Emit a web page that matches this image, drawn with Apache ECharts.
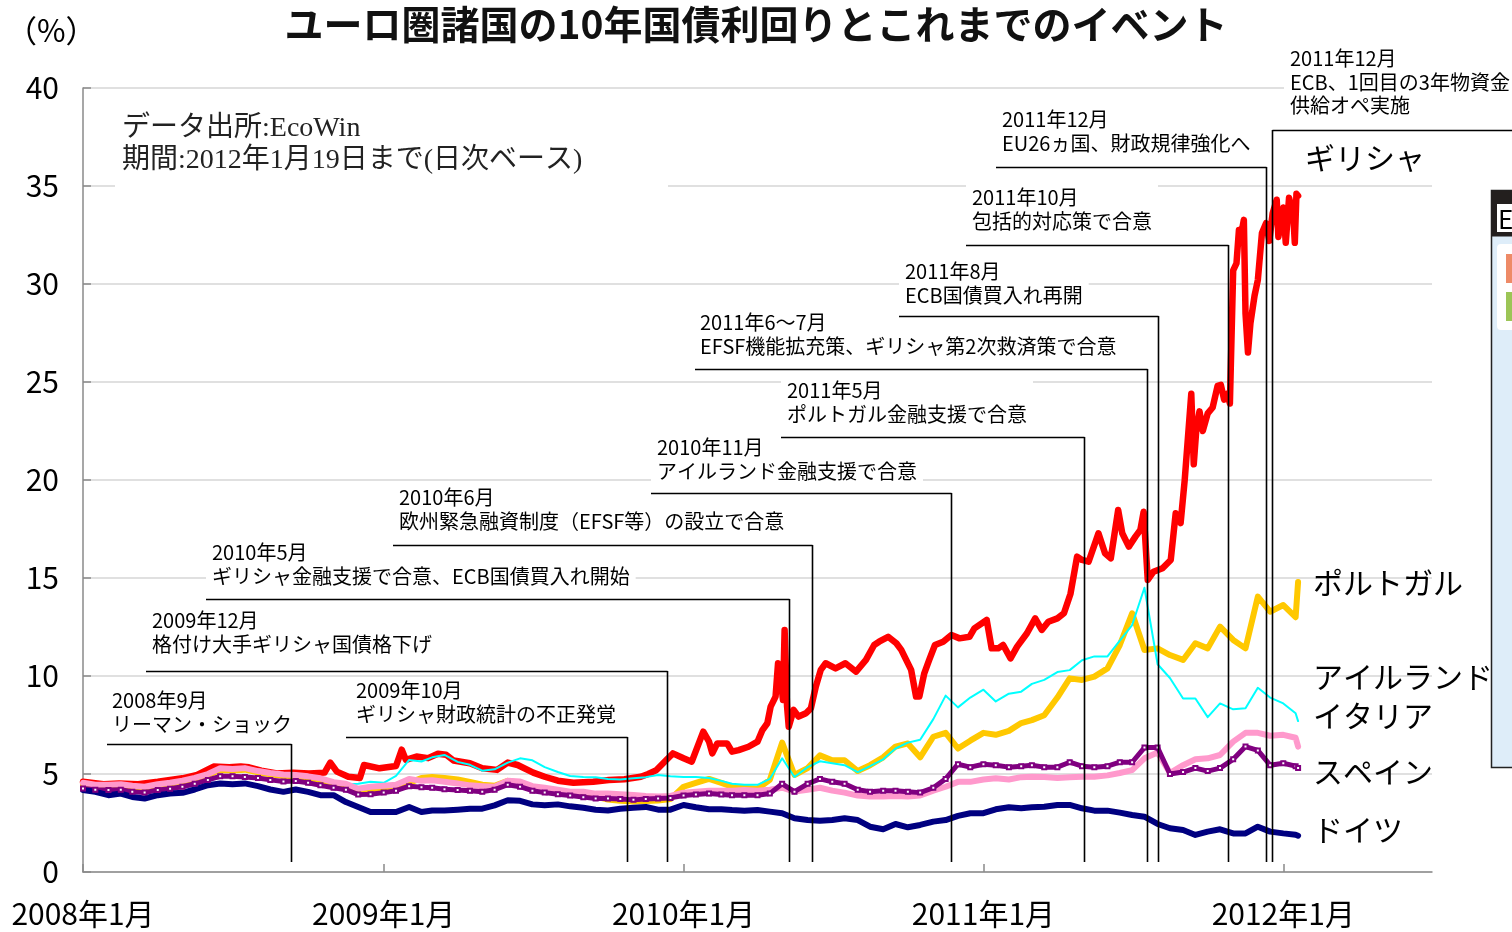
<!DOCTYPE html>
<html>
<head>
<meta charset="utf-8">
<title>ユーロ圏諸国の10年国債利回り</title>
<script src="https://cdn.jsdelivr.net/npm/echarts@6.0.0/dist/echarts.min.js"></script>
<style>
  html, body { margin: 0; padding: 0; background: #fff; }
  #chart { width: 1512px; height: 932px; }
</style>
</head>
<body>
<div id="chart"></div>
<script>
// half-month grid shared by the five smoother series (1st and 16th of each month)
var dates = [];
for (var y = 2008; y <= 2011; y++) {
  for (var m = 1; m <= 12; m++) {
    var mm = (m < 10 ? '0' : '') + m;
    dates.push(y + '-' + mm + '-01', y + '-' + mm + '-16');
  }
}
dates.push('2012-01-01', '2012-01-16', '2012-01-19');

var portugal = [4.45,4.40,4.38,4.42,4.35,4.30,4.42,4.50,4.60,4.75,4.95,5.20,5.18,5.22,5.08,4.98,4.90,4.88,4.80,4.70,4.45,4.35,4.08,4.10,
  4.20,4.30,4.55,4.80,4.85,4.80,4.72,4.60,4.45,4.40,4.65,4.55,4.30,4.20,4.10,4.00,3.95,3.85,3.70,3.64,3.60,3.62,3.65,3.72,
  4.35,4.55,4.75,4.55,4.35,4.30,4.25,4.70,6.60,4.95,5.30,5.95,5.70,5.70,5.15,5.45,5.85,6.40,6.56,5.85,6.90,7.10,6.30,6.70,
  7.10,7.00,7.20,7.60,7.75,8.00,8.90,9.88,9.80,9.97,10.39,11.58,13.20,11.33,11.41,11.07,10.82,11.67,11.41,12.52,11.84,11.41,14.05,13.28,
  13.62,13.00,14.80];
var ireland = [4.50,4.40,4.40,4.43,4.35,4.30,4.43,4.50,4.60,4.75,4.95,5.22,5.20,5.25,5.10,5.00,4.93,4.90,4.83,4.73,4.55,4.48,4.50,4.60,
  4.55,4.90,5.72,5.64,5.85,5.97,5.62,5.47,5.17,5.24,5.58,5.80,5.70,5.35,5.10,4.90,4.85,4.83,4.75,4.72,4.78,4.84,4.95,4.88,
  4.85,4.85,4.80,4.65,4.50,4.45,4.45,4.75,5.80,4.85,5.35,5.65,5.55,5.45,5.10,5.40,5.75,6.30,6.60,6.75,7.80,9.00,8.40,8.90,
  9.30,8.70,9.10,9.20,9.60,9.80,10.20,10.30,10.80,11.00,11.00,11.80,12.60,14.50,10.60,9.90,8.85,8.85,7.90,8.60,8.30,8.35,9.40,8.90,
  8.60,8.10,7.70];
var italy = [4.55,4.45,4.45,4.48,4.40,4.35,4.48,4.55,4.66,4.80,5.00,5.29,5.25,5.30,5.15,5.05,4.98,4.95,4.88,4.78,4.58,4.50,4.25,4.35,
  4.40,4.45,4.75,4.65,4.68,4.60,4.52,4.42,4.38,4.35,4.65,4.62,4.38,4.30,4.20,4.10,4.10,4.00,4.00,3.97,3.93,3.88,3.85,3.88,
  4.05,4.10,4.15,4.15,4.15,4.18,4.15,4.20,4.30,4.10,4.20,4.30,4.15,4.05,3.90,3.85,3.85,3.88,3.85,3.90,4.15,4.35,4.60,4.60,
  4.72,4.78,4.72,4.84,4.86,4.85,4.80,4.84,4.86,4.86,4.93,5.05,5.20,5.80,6.10,5.05,5.45,5.75,5.80,5.97,6.65,7.10,7.10,6.95,
  7.00,6.85,6.40];
var spain = [4.26,4.20,4.18,4.20,4.10,4.05,4.18,4.25,4.35,4.50,4.70,4.88,4.88,4.85,4.80,4.70,4.62,4.64,4.55,4.42,4.30,4.20,3.95,3.97,
  4.05,4.15,4.38,4.33,4.30,4.22,4.18,4.14,4.10,4.20,4.45,4.35,4.15,4.05,3.97,3.90,3.82,3.75,3.75,3.73,3.68,3.72,3.75,3.78,
  3.90,3.95,4.00,3.95,3.92,3.92,3.92,4.00,4.50,4.10,4.50,4.75,4.60,4.50,4.20,4.10,4.15,4.15,4.10,4.05,4.30,4.75,5.50,5.35,
  5.50,5.45,5.35,5.40,5.45,5.35,5.35,5.60,5.40,5.35,5.40,5.60,5.60,6.35,6.35,5.00,5.10,5.30,5.15,5.30,5.75,6.40,6.20,5.45,
  5.55,5.40,5.30];
var germany = [4.18,4.09,3.92,4.00,3.83,3.75,3.92,4.00,4.04,4.21,4.43,4.52,4.48,4.52,4.38,4.21,4.09,4.21,4.09,3.92,3.92,3.57,3.32,3.06,
  3.06,3.06,3.32,3.06,3.14,3.14,3.18,3.23,3.23,3.40,3.66,3.63,3.45,3.40,3.45,3.35,3.28,3.18,3.14,3.23,3.28,3.32,3.18,3.18,
  3.42,3.30,3.20,3.20,3.16,3.13,3.16,3.08,3.00,2.74,2.65,2.62,2.65,2.74,2.65,2.31,2.18,2.45,2.28,2.40,2.57,2.65,2.86,3.00,
  3.00,3.20,3.30,3.25,3.30,3.33,3.42,3.42,3.25,3.13,3.13,3.03,2.91,2.82,2.45,2.23,2.14,1.89,2.06,2.18,1.97,1.97,2.31,2.06,
  1.97,1.90,1.85];

// Greece moves much more, so it keeps its own dates
var greece = [
  ['2008-01-01',4.60],['2008-01-26',4.48],['2008-02-14',4.52],['2008-03-08',4.48],['2008-04-01',4.60],['2008-05-01',4.78],
  ['2008-05-19',4.95],['2008-06-08',5.38],['2008-06-27',5.34],['2008-07-11',5.38],['2008-07-21',5.34],['2008-08-05',5.17],
  ['2008-08-24',5.03],['2008-09-13',5.07],['2008-10-02',5.03],['2008-10-21',5.07],['2008-10-28',5.58],['2008-11-05',5.12],
  ['2008-11-19',4.86],['2008-12-03',4.80],['2008-12-08',5.46],['2008-12-27',5.29],
  ['2009-01-16',5.41],['2009-01-23',6.24],['2009-01-28',5.72],['2009-02-10',5.89],['2009-02-24',5.81],['2009-03-08',6.03],
  ['2009-03-18',5.98],['2009-03-27',5.69],['2009-04-16',5.55],['2009-05-01',5.29],['2009-05-19',5.21],['2009-06-01',5.58],
  ['2009-06-13',5.46],['2009-07-02',5.07],['2009-07-16',4.86],['2009-08-01',4.66],['2009-08-20',4.55],['2009-09-13',4.60],
  ['2009-10-02',4.69],['2009-10-21',4.73],['2009-11-10',4.86],['2009-11-19',5.00],['2009-11-29',5.20],['2009-12-11',5.71],
  ['2009-12-19',6.05],
  ['2010-01-01',5.80],['2010-01-11',5.63],['2010-01-25',7.16],['2010-02-01',6.65],['2010-02-05',6.05],['2010-02-11',6.56],
  ['2010-02-23',6.56],['2010-03-01',6.14],['2010-03-09',6.22],['2010-03-21',6.39],['2010-04-01',6.65],['2010-04-07',7.24],
  ['2010-04-13',7.59],['2010-04-17',8.44],['2010-04-23',8.95],['2010-04-26',10.65],['2010-04-29',9.97],['2010-05-02',8.78],
  ['2010-05-04',12.35],['2010-05-07',8.44],['2010-05-09',7.41],['2010-05-15',8.27],['2010-05-21',7.93],['2010-05-30',8.10],
  ['2010-06-05',8.35],['2010-06-11',9.46],['2010-06-17',10.31],['2010-06-23',10.65],['2010-07-05',10.39],['2010-07-17',10.65],
  ['2010-07-30',10.22],['2010-08-11',10.82],['2010-08-21',11.58],['2010-08-27',11.75],['2010-09-07',12.00],['2010-09-17',11.67],
  ['2010-09-23',11.33],['2010-09-29',10.82],['2010-10-05',10.31],['2010-10-11',8.95],['2010-10-15',8.95],['2010-10-21',10.14],
  ['2010-10-27',10.82],['2010-11-03',11.58],['2010-11-13',11.75],['2010-11-23',12.09],['2010-12-03',11.92],['2010-12-15',12.00],
  ['2010-12-21',12.43],
  ['2011-01-05',12.86],['2011-01-11',11.41],['2011-01-19',11.41],['2011-01-25',11.58],['2011-02-03',10.90],['2011-02-11',11.50],
  ['2011-02-23',12.18],['2011-03-05',12.94],['2011-03-13',12.35],['2011-03-21',12.77],['2011-04-01',12.94],['2011-04-09',13.20],
  ['2011-04-17',14.20],['2011-04-25',16.09],['2011-05-01',15.92],['2011-05-09',15.83],['2011-05-21',17.28],['2011-05-29',16.26],
  ['2011-06-05',16.00],['2011-06-14',18.47],['2011-06-19',17.28],['2011-06-27',16.60],['2011-07-05',17.11],['2011-07-11',17.45],
  ['2011-07-15',18.38],['2011-07-20',14.90],['2011-07-27',15.32],['2011-08-07',15.50],['2011-08-17',15.92],['2011-08-23',18.30],
  ['2011-08-29',17.80],['2011-09-03',20.00],['2011-09-11',24.40],['2011-09-14',20.80],['2011-09-17',22.50],['2011-09-21',23.50],
  ['2011-09-25',22.50],['2011-10-01',23.40],['2011-10-07',23.70],['2011-10-13',24.80],['2011-10-17',24.85],['2011-10-21',24.10],
  ['2011-10-25',24.40],['2011-10-28',23.90],['2011-11-01',30.70],['2011-11-05',31.05],['2011-11-08',32.75],['2011-11-11',32.60],
  ['2011-11-14',33.27],['2011-11-16',28.50],['2011-11-19',26.50],['2011-11-22',28.00],['2011-11-27',29.40],['2011-12-01',30.20],
  ['2011-12-06',32.60],['2011-12-11',33.10],['2011-12-15',32.20],['2011-12-19',33.60],['2011-12-24',34.30],['2011-12-26',32.40],
  ['2012-01-01',33.90],['2012-01-04',32.10],['2012-01-08',34.40],['2012-01-13',33.60],['2012-01-15',32.10],['2012-01-17',34.60],
  ['2012-01-19',34.50]
];

var countryNames = ['ギリシャ', 'ポルトガル', 'アイルランド', 'イタリア', 'スペイン', 'ドイツ'];

var eventDates = ['2008-09-10', '2009-10-24', '2009-12-12', '2010-05-09', '2010-06-06', '2010-11-23',
  '2011-05-03', '2011-07-19', '2011-08-01', '2011-10-26', '2011-12-11', '2011-12-18'];
var eventTexts = [
  '2008年9月\nリーマン・ショック',
  '2009年10月\nギリシャ財政統計の不正発覚',
  '2009年12月\n格付け大手ギリシャ国債格下げ',
  '2010年5月\nギリシャ金融支援で合意、ECB国債買入れ開始',
  '2010年6月\n欧州緊急融資制度（EFSF等）の設立で合意',
  '2010年11月\nアイルランド金融支援で合意',
  '2011年5月\nポルトガル金融支援で合意',
  '2011年6〜7月\nEFSF機能拡充策、ギリシャ第2次救済策で合意',
  '2011年8月\nECB国債買入れ再開',
  '2011年10月\n包括的対応策で合意',
  '2011年12月\nEU26ヵ国、財政規律強化へ',
  '2011年12月\nECB、1回目の3年物資金\n供給オペ実施'
];
var sourceNote = 'データ出所:EcoWin\n期間:2012年1月19日まで(日次ベース)';

// layout only: [text x, text top, leader y, leader start x]
var eventLayout = [
  [106, 688, 744, 107], [350, 678, 737, 346], [146, 608, 671, 146], [206, 540, 599, 206],
  [393, 485, 545, 393], [651, 435, 493, 651], [781, 378, 437, 781], [694, 310, 369, 695],
  [899, 259, 316, 899], [966, 185, 245, 966], [996, 107, 167, 996], [1284, 46, 130, 1512]
];
var labelLayout = [[1299, 158], [1313, 583], [1313, 677], [1313, 716], [1313, 772], [1313, 830]];

var jp = '"Noto Sans CJK JP", sans-serif';

function toTime(s) {
  var p = s.split('-');
  return new Date(+p[0], +p[1] - 1, +p[2]).getTime();
}
function onGrid(vals) {
  return dates.map(function (d, i) { return [toTime(d), vals[i]]; });
}
function lineSeries(name, data, color, width) {
  return {
    name: name, type: 'line', data: data, symbol: 'none', silent: true,
    lineStyle: { color: color, width: width, cap: 'round', join: 'round' },
    itemStyle: { color: color },
    emphasis: { disabled: true }
  };
}

var chart = echarts.init(document.getElementById('chart'));

var spainSeries = lineSeries(countryNames[4], onGrid(spain), '#800080', 5);
spainSeries.symbol = 'emptyRect';
spainSeries.symbolSize = 4;
spainSeries.showSymbol = true;
spainSeries.itemStyle = { color: '#800080', borderColor: '#800080', borderWidth: 1.3 };

chart.setOption({
  animation: false,
  backgroundColor: '#fff',
  title: {
    text: 'ユーロ圏諸国の10年国債利回りとこれまでのイベント',
    left: 'center', top: 0,
    textStyle: { fontSize: 39, fontWeight: 'bold', fontFamily: jp, color: '#111' }
  },
  grid: { left: 83, right: 80, top: 88, bottom: 60, containLabel: false },
  xAxis: {
    type: 'time',
    min: toTime('2008-01-01'),
    max: toTime('2012-06-30'),
    minInterval: 365 * 864e5,
    maxInterval: 366 * 864e5,
    splitLine: { show: false },
    axisLine: { lineStyle: { color: '#8a8a8a', width: 1.5 } },
    axisTick: { inside: true, length: 8, lineStyle: { color: '#8a8a8a', width: 1.5 } },
    axisLabel: {
      fontSize: 30, color: '#000', fontFamily: jp, margin: 27, showMinLabel: true, hideOverlap: false,
      formatter: function (val) {
        var d = new Date(val);
        return d.getDate() === 1 ? d.getFullYear() + '年' + (d.getMonth() + 1) + '月' : '';
      }
    }
  },
  yAxis: {
    type: 'value', min: 0, max: 40, interval: 5,
    axisLine: { show: true, lineStyle: { color: '#8a8a8a', width: 1.5 } },
    axisTick: { show: true, inside: true, length: 8, lineStyle: { color: '#8a8a8a', width: 1.5 } },
    splitLine: { lineStyle: { color: '#d6d6d6', width: 1.5 } },
    axisLabel: { fontSize: 30, color: '#000', fontFamily: jp, margin: 24 }
  },
  series: [
    lineSeries(countryNames[0], greece.map(function (p) { return [toTime(p[0]), p[1]]; }), '#ff0000', 6.5),
    lineSeries(countryNames[1], onGrid(portugal), '#ffc800', 6),
    lineSeries(countryNames[2], onGrid(ireland), '#00ffff', 2),
    lineSeries(countryNames[3], onGrid(italy), '#ff99cc', 6),
    spainSeries,
    lineSeries(countryNames[5], onGrid(germany), '#000080', 6)
  ]
});

// annotations: texts, leader lines, country labels
var g = [];
g.push({ type: 'rect', silent: true, z: 5, shape: { x: 115, y: 104, width: 553, height: 90 }, style: { fill: '#fff' } });
g.push({ type: 'text', silent: true, z: 6, x: 122, y: 113,
  style: { text: sourceNote, fontSize: 28, fontFamily: '"Liberation Serif", "Noto Sans CJK JP", serif', fill: '#222', lineHeight: 32 } });
g.push({ type: 'text', silent: true, z: 6, x: 6, y: 15,
  style: { text: '（%）', fontSize: 31, fontFamily: jp, fill: '#000' } });

eventDates.forEach(function (d, i) {
  var lay = eventLayout[i];
  var ex = Math.round(chart.convertToPixel({ xAxisIndex: 0 }, toTime(d))) + 0.5;
  g.push({ type: 'text', silent: true, z: 10, x: lay[0], y: lay[1],
    style: { text: eventTexts[i], fontSize: 20, fontFamily: jp, fill: '#000', lineHeight: 23.5,
      backgroundColor: '#fff', padding: [1, 6, 1, 6] } });
  g.push({ type: 'line', silent: true, z: 11,
    shape: { x1: Math.min(lay[3], ex), y1: lay[2] + 0.5, x2: Math.max(lay[3], ex), y2: lay[2] + 0.5 },
    style: { stroke: '#000', lineWidth: 1.6 } });
  g.push({ type: 'line', silent: true, z: 11,
    shape: { x1: ex, y1: lay[2], x2: ex, y2: 862 },
    style: { stroke: '#000', lineWidth: 1.6 } });
});

countryNames.forEach(function (n, i) {
  var p = labelLayout[i];
  g.push({ type: 'text', silent: true, z: 10, x: p[0], y: p[1],
    style: { text: n, fontSize: 30, fontFamily: jp, fill: '#000', verticalAlign: 'middle',
      backgroundColor: i === 0 ? '#fff' : 'transparent', padding: i === 0 ? [2, 14, 2, 6] : 0 } });
});

// edge of the neighbouring panel that shows at the right
g.push({ type: 'rect', silent: true, z: 20, shape: { x: 1491.5, y: 190.5, width: 30, height: 577 },
  style: { fill: '#deedf9', stroke: '#222', lineWidth: 1.5 } });
g.push({ type: 'rect', silent: true, z: 21, shape: { x: 1491.5, y: 190.5, width: 30, height: 46 }, style: { fill: '#231f1e' } });
g.push({ type: 'rect', silent: true, z: 22, shape: { x: 1497, y: 204, width: 20, height: 28 }, style: { fill: '#fff' } });
g.push({ type: 'text', silent: true, z: 23, x: 1498, y: 219,
  style: { text: 'E', fontSize: 26, fontFamily: jp, fill: '#000', verticalAlign: 'middle' } });
g.push({ type: 'rect', silent: true, z: 21, shape: { x: 1497, y: 244, width: 20, height: 86, r: 4 }, style: { fill: '#fff' } });
g.push({ type: 'rect', silent: true, z: 22, shape: { x: 1506, y: 254, width: 10, height: 29 }, style: { fill: '#ee8a67' } });
g.push({ type: 'rect', silent: true, z: 22, shape: { x: 1506, y: 292, width: 10, height: 29 }, style: { fill: '#9cc556' } });

chart.setOption({ graphic: g });
</script>
</body>
</html>
